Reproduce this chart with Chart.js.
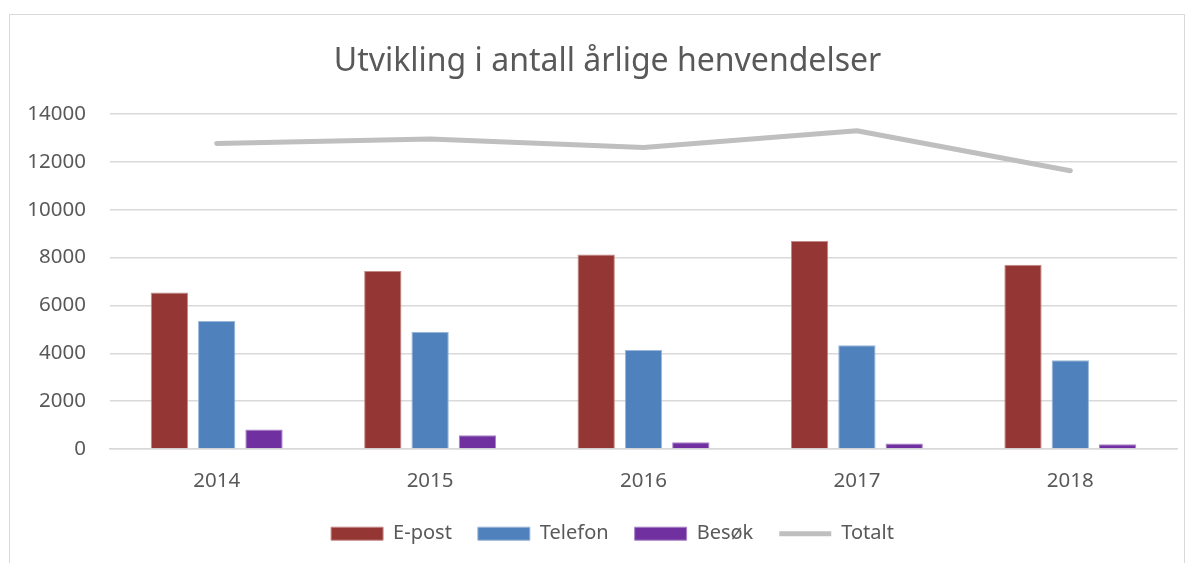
<!DOCTYPE html>
<html>
<head>
<meta charset="utf-8">
<script src="https://cdn.jsdelivr.net/npm/chart.js@4/dist/chart.umd.min.js"></script>
<style>
  html, body { margin: 0; padding: 0; background: #fff; }
  #wrap { position: absolute; left: 0; top: 0; width: 1194px; height: 563px; }
  #frame { position: absolute; left: 9px; top: 14px; width: 1176px; height: 560px; border: 1.5px solid #d9d9d9; box-sizing: border-box; }
  canvas { position: absolute; left: 0; top: 0; }
</style>
</head>
<body>
<div id="wrap">
  <div id="frame"></div>
  <canvas id="c" width="1194" height="563"></canvas>
</div>
<script>
const categories = ["2014", "2015", "2016", "2017", "2018"];
const ePost = [6540, 7440, 8130, 8690, 7700];
const telefon = [5350, 4900, 4140, 4340, 3710];
const besok = [820, 575, 285, 225, 195];
const totalt = [12770, 12960, 12600, 13300, 11630];
const yTicks = [0, 2000, 4000, 6000, 8000, 10000, 12000, 14000];

const FONT = "'Noto Sans', 'Open Sans', sans-serif";
const TXT = "#595959";

const LEGEND_H = 57.4;
const LEGEND_TOP = 497.7;

const shiftBlocks = {
  id: "shiftBlocks",
  beforeLayout(chart) {
    const lg = chart.legend;
    if (lg && !lg._patchedFit) {
      const orig = lg.fit.bind(lg);
      lg.fit = function () { orig(); this.height = LEGEND_H; };
      lg._patchedFit = true;
    }
  },
  afterLayout(chart) {
    if (chart.titleBlock) { chart.titleBlock.left = 38; }
    if (chart.legend) {
      const lg = chart.legend;
      lg.left = 48;
      const h = lg.bottom - lg.top;
      lg.top = LEGEND_TOP;
      lg.bottom = LEGEND_TOP + h;
    }
  }
};

new Chart(document.getElementById("c"), {
  type: "bar",
  data: {
    labels: categories,
    datasets: [
      { label: "E-post", data: ePost, backgroundColor: "#943634", borderColor: "#c48a88", borderWidth: 1, pointStyle: "rect", order: 2 },
      { label: "Telefon", data: telefon, backgroundColor: "#4f81bd", borderColor: "#9ab6d8", borderWidth: 1, pointStyle: "rect", order: 2 },
      { label: "Besøk", data: besok, backgroundColor: "#7030a0", borderColor: "#a884c6", borderWidth: 1, pointStyle: "rect", order: 2 },
      { label: "Totalt", data: totalt, type: "line", borderColor: "#bfbfbf", backgroundColor: "#bfbfbf", borderWidth: 5, borderCapStyle: "round", borderJoinStyle: "round", pointRadius: 0, pointHoverRadius: 0, tension: 0, fill: false, pointStyle: "line", order: 1 }
    ]
  },
  plugins: [shiftBlocks],
  options: {
    responsive: false,
    animation: false,
    devicePixelRatio: 1,
    datasets: { bar: { categoryPercentage: 0.665, barPercentage: 0.789 } },
    layout: { padding: { left: 0, right: 17, top: 0, bottom: 0 } },
    plugins: {
      tooltip: { enabled: false },
      title: {
        display: true,
        text: "Utvikling i antall årlige henvendelser",
        color: TXT,
        font: { family: FONT, size: 32, weight: "normal" },
        padding: { top: 43, bottom: 32.6 }
      },
      legend: {
        position: "bottom",
        labels: {
          color: TXT,
          font: { family: FONT, size: 20 },
          usePointStyle: true,
          pointStyleWidth: 52,
          boxHeight: 13,
          padding: 26,
          sort: (a, b) => a.datasetIndex - b.datasetIndex
        }
      }
    },
    scales: {
      x: {
        grid: { display: false },
        border: { display: true, color: "#d9d9d9", width: 1.5 },
        ticks: { color: TXT, font: { family: FONT, size: 20.5 }, padding: 12 }
      },
      y: {
        min: 0,
        max: 14000,
        afterBuildTicks: (s) => { s.ticks = yTicks.map(v => ({ value: v })); },
        afterFit: (s) => { s.width = 110; },
        grid: { color: "#d9d9d9", lineWidth: 1.5, drawTicks: false },
        border: { display: false },
        ticks: { color: TXT, font: { family: FONT, size: 20.5 }, padding: 24, callback: (v) => String(v) }
      }
    }
  }
});
</script>
</body>
</html>
